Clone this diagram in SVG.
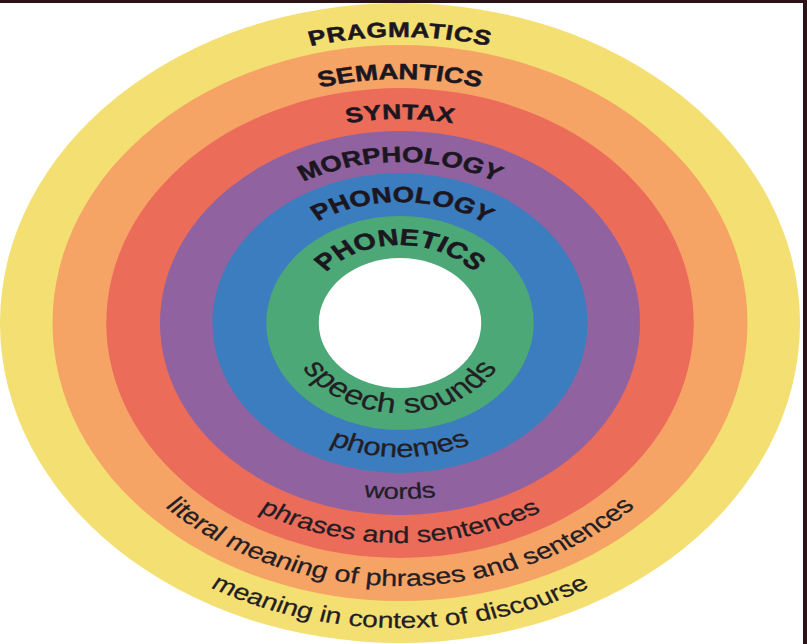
<svg xmlns="http://www.w3.org/2000/svg" xmlns:xlink="http://www.w3.org/1999/xlink" width="807" height="644" viewBox="0 0 807 644">
<style>
.cap{font-family:"Liberation Sans",Arial,sans-serif;font-weight:bold;fill:#1b1620;stroke:#1b1620;stroke-width:0.5;}
.low{font-family:"Liberation Sans",Arial,sans-serif;fill:#231d24;stroke:#231d24;stroke-width:0.25;}
</style>
<defs>
<path id="t286" d="M-286,0 A286,286 0 0 1 286,0"/>
<path id="t244" d="M-244,0 A244,244 0 0 1 244,0"/>
<path id="t204" d="M-204,0 A204,204 0 0 1 204,0"/>
<path id="t161" d="M-161,0 A161,161 0 0 1 161,0"/>
<path id="t121" d="M-121,0 A121,121 0 0 1 121,0"/>
<path id="t78" d="M-78,0 A78,78 0 0 1 78,0"/>
<path id="b90" d="M-90,0 A90,90 0 0 0 90,0"/>
<path id="b134" d="M-134,0 A134,134 0 0 0 134,0"/>
<path id="b176" d="M-176,0 A176,176 0 0 0 176,0"/>
<path id="b220" d="M-220,0 A220,220 0 0 0 220,0"/>
<path id="b263" d="M-263,0 A263,263 0 0 0 263,0"/>
<path id="b305" d="M-305,0 A305,305 0 0 0 305,0"/>
</defs>
<rect width="807" height="644" fill="#ffffff"/>
<g transform="translate(400,323) scale(1.25,1)">
<g id="pragmatics">
<circle r="320" fill="#F4DF72"/>
</g>
<g id="semantics">
<circle r="278" fill="#F6A466"/>
</g>
<g id="syntax">
<circle r="235" fill="#EC6C5A"/>
</g>
<g id="morphology">
<circle r="192" fill="#9063A0"/>
</g>
<g id="phonology">
<circle r="150" fill="#3B7DBF"/>
</g>
<g id="phonetics">
<circle r="107" fill="#4CA877"/>
</g>
<g id="core">
<circle r="65" fill="#ffffff"/>
</g>
<g id="labels-top" class="cap" text-anchor="middle">
<text font-size="21" letter-spacing="0.5"><textPath xlink:href="#t286" href="#t286" startOffset="50%">PRAGMATICS</textPath></text>
<text font-size="22"><textPath xlink:href="#t244" href="#t244" startOffset="50%">SEMANTICS</textPath></text>
<text font-size="21" letter-spacing="0.3"><textPath xlink:href="#t204" href="#t204" startOffset="50%">SYNTAX</textPath></text>
<text font-size="22"><textPath xlink:href="#t161" href="#t161" startOffset="50%">MORPHOLOGY</textPath></text>
<text font-size="22"><textPath xlink:href="#t121" href="#t121" startOffset="50.5%">PHONOLOGY</textPath></text>
<text font-size="23"><textPath xlink:href="#t78" href="#t78" startOffset="50%">PHONETICS</textPath></text>
</g>
<g id="labels-bottom" class="low" text-anchor="middle">
<text font-size="27" letter-spacing="0.6"><textPath xlink:href="#b90" href="#b90" startOffset="50%">speech sounds</textPath></text>
<text font-size="25"><textPath xlink:href="#b134" href="#b134" startOffset="50%">phonemes</textPath></text>
<text font-size="22"><textPath xlink:href="#b176" href="#b176" startOffset="50%">words</textPath></text>
<text font-size="23"><textPath xlink:href="#b220" href="#b220" startOffset="50%">phrases and sentences</textPath></text>
<text font-size="23"><textPath xlink:href="#b263" href="#b263" startOffset="50%">literal meaning of phrases and sentences</textPath></text>
<text font-size="22.6"><textPath xlink:href="#b305" href="#b305" startOffset="50%">meaning in context of discourse</textPath></text>
</g>
</g>
<rect x="0" y="0" width="807" height="3" fill="#2b1418"/>
<rect x="803" y="0" width="4" height="644" fill="#2b1418"/>
</svg>
